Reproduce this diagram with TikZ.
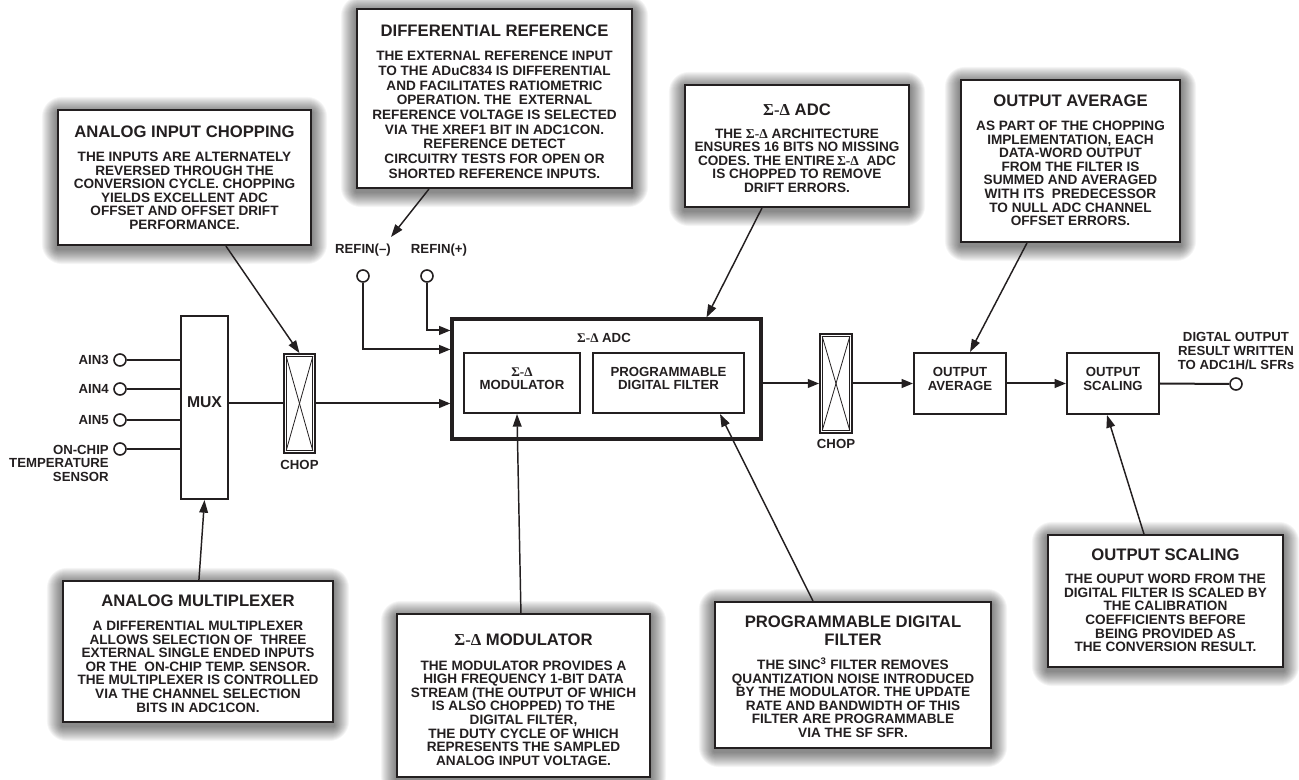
\documentclass[tikz,border=0pt]{standalone}
\usepackage{fontspec}
\setmainfont{Liberation Sans}
\newfontfamily\gk{Liberation Serif}
\usetikzlibrary{arrows.meta,calc,fit}
\pgfdeclarelayer{shadow}
\pgfsetlayers{shadow,main}
\definecolor{ink}{RGB}{35,31,32}
\newcommand{\SD}{{\gk\bfseries Σ-Δ}}
\newcommand{\bodyf}{\fontsize{10.2}{10.2}\selectfont\bfseries}
\newcommand{\ttlf}{\fontsize{12.5}{13}\selectfont\bfseries}
\tikzset{
  callout/.style={draw=ink, line width=1.6pt, fill=white, inner sep=0pt, rectangle},
  calltext/.style={anchor=north, align=center, inner sep=0pt, text=ink, font=\bodyf},
  blk/.style={draw=ink, line width=1.5pt, fill=white, inner sep=0pt, rectangle, align=center,
    font=\fontsize{9.9}{10}\selectfont\bfseries, text=ink},
  chopbox/.style={draw=ink, line width=1.3pt, fill=white, inner sep=0pt, rectangle},
  port/.style={circle, draw=ink, line width=1.2pt, fill=white, minimum size=9pt, inner sep=0pt},
  lbl/.style={font=\fontsize{9.9}{10}\selectfont\bfseries, text=ink, inner sep=0pt},
  flow/.style={draw=ink, line width=1.5pt},
  arr/.style={draw=ink, line width=1.5pt, -{Triangle[length=8.5pt,width=6.5pt]}},
  callarr/.style={draw=ink, line width=1.1pt, -{Triangle[length=9.5pt,width=6.5pt]}},
}
\begin{document}
\begin{tikzpicture}[x=0.75pt, y=-0.75pt]
\useasboundingbox (0,0) rectangle (1299,780);

% ---------------- main signal chain ----------------
\node[blk, fit={(181,316) (228,499)}, font=\fontsize{11.8}{12}\selectfont\bfseries] (mux) {MUX};
\node[chopbox, fit={(284,354) (315,453)}] (chop1) {};
\node[blk, line width=2.3pt, fit={(452,319) (761,439)}] (adc) {};
\node[blk, fit={(464,353) (580,413)}] (mod) {\SD\\MODULATOR};
\node[blk, fit={(593,353) (744,413)}] (filt) {PROGRAMMABLE\\DIGITAL FILTER};
\node[lbl] (adct) at (604,338) {\SD\ ADC};
\node[chopbox, fit={(820,334) (852,433)}] (chop2) {};
\node[blk, fit={(914,353) (1006,414)}] (avg) {OUTPUT\\AVERAGE};
\node[blk, fit={(1067,353) (1159,414)}] (scal) {OUTPUT\\SCALING};

% chop symbols
\foreach \c in {chop1,chop2}{
  \draw[ink, line width=0.6pt] ($(\c.north west)+(3,3)$) rectangle ($(\c.south east)+(-3,-3)$);
  \draw[ink, line width=0.6pt] ($(\c.north west)+(3,3)$) -- ($(\c.south east)+(-3,-3)$);
  \draw[ink, line width=0.6pt] ($(\c.north east)+(-3,3)$) -- ($(\c.south west)+(3,-3)$);
}
\node[lbl] (chl1) at (299.5,465) {CHOP};
\node[lbl] (chl2) at (836,444) {CHOP};

% inputs
\node[port] (a3) at (120,360) {};
\node[port] (a4) at (120,389) {};
\node[port] (a5) at (120,420) {};
\node[port] (a6) at (120,449) {};
\node[lbl, anchor=east] (la3) at (109,360) {AIN3};
\node[lbl, anchor=east] (la4) at (109,389) {AIN4};
\node[lbl, anchor=east] (la5) at (109,420) {AIN5};
\node[lbl, anchor=north east, align=right] (la6) at (109,445) {ON-CHIP\\TEMPERATURE\\SENSOR};
\foreach \p in {a3,a4,a5,a6}{
  \draw[flow] (\p.east) -- (\p -| mux.west);
}

% reference inputs
\node[port] (rm) at (363,276) {};
\node[port] (rp) at (427,276) {};
\node[lbl] (lrm) at (363,250) {REFIN(–)};
\node[lbl] (lrp) at (439,250) {REFIN(+)};
\draw[arr] (rm.south) |- ($(adc.north west)+(0,32)$);
\draw[arr] (rp.south) |- ($(adc.north west)+(0,13)$);

% flow
\draw[flow] (mux.east |- chop1.west) -- (chop1.west);
\draw[arr] (chop1.east) -- (chop1.east -| adc.west);
\draw[arr] (adc.east |- chop2.west) -- (chop2.west);
\draw[arr] (chop2.east) -- (avg.west);
\draw[arr] (avg.east) -- (scal.west);
\node[port] (out) at (1236,384) {};
\draw[flow] (scal.east) -- (out.west);
\node[lbl, align=center, font=\fontsize{9.9}{10.5}\selectfont\bfseries] (lout) at (1236,351)
  {DIGTAL OUTPUT\\RESULT WRITTEN\\TO ADC1H/L SFRs};

% ---------------- callouts ----------------
\node[callout, fit={(58,110) (311,245)}] (c1) {};
\node[calltext] (t1) at ($(c1.north)+(0,17)$) {{\ttlf ANALOG INPUT CHOPPING}\\[7.6pt]
  THE INPUTS ARE ALTERNATELY\\REVERSED THROUGH THE\\CONVERSION CYCLE. CHOPPING\\
  YIELDS EXCELLENT ADC\\OFFSET AND OFFSET DRIFT\\PERFORMANCE.};

\node[callout, fit={(357,9) (632,188)}] (c2) {};
\node[calltext, font=\fontsize{10.2}{11}\selectfont\bfseries] (t2) at ($(c2.north)+(0,17)$)
  {{\ttlf DIFFERENTIAL REFERENCE}\\[7pt]
  THE EXTERNAL REFERENCE INPUT\\TO THE ADuC834 IS DIFFERENTIAL\\AND FACILITATES RATIOMETRIC\\
  OPERATION. THE \ EXTERNAL\\REFERENCE VOLTAGE IS SELECTED\\VIA THE XREF1 BIT IN ADC1CON.\\
  REFERENCE DETECT\\CIRCUITRY TESTS FOR OPEN OR\\SHORTED REFERENCE INPUTS.};

\node[callout, fit={(685,85) (909,207)}] (c3) {};
\node[calltext] (t3) at ($(c3.north)+(0,20)$) {{\ttlf \SD\ ADC}\\[6.5pt]
  THE \SD\ ARCHITECTURE\\ENSURES 16 BITS NO MISSING\\CODES. THE ENTIRE\,\SD\ \ ADC\\
  IS CHOPPED TO REMOVE\\DRIFT ERRORS.};

\node[callout, fit={(961,80) (1180,242)}] (c4) {};
\node[calltext] (t4) at ($(c4.north)+(0,16)$) {{\ttlf OUTPUT AVERAGE}\\[7.6pt]
  AS PART OF THE CHOPPING\\IMPLEMENTATION, EACH\\DATA-WORD OUTPUT\\FROM THE FILTER IS\\
  SUMMED AND AVERAGED\\WITH ITS \ PREDECESSOR\\TO NULL ADC CHANNEL\\OFFSET ERRORS.};

\node[callout, fit={(63,581) (333,722)}] (c5) {};
\node[calltext] (t5) at ($(c5.north)+(0,15)$) {{\ttlf ANALOG MULTIPLEXER}\\[7.6pt]
  A DIFFERENTIAL MULTIPLEXER\\ALLOWS SELECTION OF \ THREE\\EXTERNAL SINGLE ENDED INPUTS\\
  OR THE \ ON-CHIP TEMP. SENSOR.\\THE MULTIPLEXER IS CONTROLLED\\VIA THE CHANNEL SELECTION\\
  BITS IN ADC1CON.};

\node[callout, fit={(397,614) (650,777)}] (c6) {};
\node[calltext] (t6) at ($(c6.north)+(0,21)$) {{\ttlf \SD\ MODULATOR}\\[8pt]
  THE MODULATOR PROVIDES A\\HIGH FREQUENCY 1-BIT DATA\\STREAM (THE OUTPUT OF WHICH\\
  IS ALSO CHOPPED) TO THE\\DIGITAL FILTER,\\THE DUTY CYCLE OF WHICH\\
  REPRESENTS THE SAMPLED\\ANALOG INPUT VOLTAGE.};

\node[callout, fit={(715,602) (991,748)}] (c7) {};
\node[calltext] (t7) at ($(c7.north)+(0,15)$) {{\ttlf PROGRAMMABLE DIGITAL}\\[2.8pt]{\ttlf FILTER}\\[8pt]
  THE SINC\textsuperscript{3} FILTER REMOVES\\QUANTIZATION NOISE INTRODUCED\\
  BY THE MODULATOR. THE UPDATE\\RATE AND BANDWIDTH OF THIS\\FILTER ARE PROGRAMMABLE\\
  VIA THE SF SFR.};

\node[callout, fit={(1048,535) (1283,667)}] (c8) {};
\node[calltext] (t8) at ($(c8.north)+(0,15)$) {{\ttlf OUTPUT SCALING}\\[7pt]
  THE OUPUT WORD FROM THE\\DIGITAL FILTER IS SCALED BY\\THE CALIBRATION\\
  COEFFICIENTS BEFORE\\BEING PROVIDED AS\\THE CONVERSION RESULT.};

% shadows
\begin{pgfonlayer}{shadow}
\foreach \n in {c1,c2,c3,c4,c5,c6,c7,c8}{
  \foreach \i in {1,...,15}{
    \fill[black, opacity=0.04, rounded corners=\i pt]
      ($(\n.north west)+(-\i,-\i+3)$) rectangle ($(\n.south east)+(\i,\i+3)$);
  }
}
\end{pgfonlayer}

% callout pointers
\coordinate (reftip) at (391,237);
\draw[callarr] ($(c1.south west)+(169,0)$) -- (chop1.north);
\draw[callarr] ($(c2.south west)+(73,0)$) -- (reftip);
\draw[callarr] ($(c3.south west)+(78,0)$) -- ($(adc.north west)+(256,0)$);
\draw[callarr] ($(c4.south west)+(67,0)$) -- ($(avg.north west)+(57,0)$);
\draw[callarr] ($(c5.north west)+(137,0)$) -- (mux.south);
\draw[callarr] ($(c6.north west)+(125,0)$) -- ($(mod.south west)+(54,0)$);
\draw[callarr] ($(c7.north west)+(99,0)$) -- ($(filt.south west)+(128,0)$);
\draw[callarr] ($(c8.north west)+(97,0)$) -- ($(scal.south west)+(41,0)$);
\end{tikzpicture}
\end{document}
